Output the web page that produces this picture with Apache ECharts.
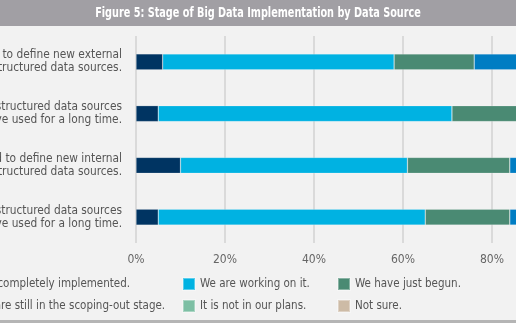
<!DOCTYPE html>
<html><head><meta charset="utf-8">
<script src="https://cdn.jsdelivr.net/npm/echarts@6/dist/echarts.min.js"></script>
<style>html,body{margin:0;padding:0;background:#f2f2f2;overflow:hidden;width:516px;height:323px;}#c{width:650px;height:323px;}</style>
</head><body><div id="c"></div>
<script>
var categories = [
  "We need to define new external\nunstructured data sources.",
  "Internal unstructured data sources\nwe have used for a long time.",
  "We need to define new internal\nstructured data sources.",
  "Internal structured data sources\nwe have used for a long time."
];
var seriesNames = ["It is completely implemented.","We are working on it.","We have just begun.","We are still in the scoping-out stage.","It is not in our plans.","Not sure."];
var completelyImplemented = [6, 5, 10, 5];
var workingOnIt = [52, 66, 51, 60];
var justBegun = [18, 17, 23, 19];
var scopingOut = [14, 7, 10, 10];
var notInPlans = [6, 3, 4, 4];
var notSure = [4, 2, 2, 2];
var tickLabels = ["0%","20%","40%","60%","80%","100%"];
var colors = ["#003462","#00b2e2","#4a8a73","#007dc3","#7dbfa4","#cdbba6"];
var seriesData = [completelyImplemented, workingOnIt, justBegun, scopingOut, notInPlans, notSure];
var FONT = "'Liberation Sans Narrow','DejaVu Sans Condensed','Arial Narrow',sans-serif";
var LFS = 11.5;

var cv = document.createElement('canvas').getContext('2d');
cv.font = LFS + 'px ' + FONT;
var col1TextStart = -cv.measureText('We a').width;
var col1Left = col1TextStart - 17;

var chart = echarts.init(document.getElementById('c'), null, {renderer:'canvas'});
var series = seriesData.map(function(d,i){
  return {name:seriesNames[i], type:'bar', stack:'s', data:d.slice().reverse(), barWidth:16,
    itemStyle:{color:colors[i], borderColor:'rgba(255,255,255,0.35)', borderWidth:0.6}, silent:true};
});
function legendCol(names, left){
  return {orient:'vertical', left:left, top:277, padding:0, itemWidth:12, itemHeight:12, itemGap:8, icon:'rect',
    data:names, selectedMode:false, textStyle:{color:'#555', fontSize:LFS, fontFamily:FONT}};
}
chart.setOption({
  backgroundColor:'#f2f2f2',
  animation:false,
  color:colors,
  graphic:[
    {type:'rect', shape:{x:0,y:0,width:650,height:26}, style:{fill:'#a19fa4'}, z:-1},
    {type:'rect', shape:{x:0,y:320,width:650,height:3}, style:{fill:'#b5b5b5'}, z:-1},
    {type:'text', x:258, y:13, scaleX:0.77, style:{text:'Figure 5: Stage of Big Data Implementation by Data Source',
      fill:'#fff', fontSize:14, fontWeight:'bold', fontFamily:FONT, align:'center', verticalAlign:'middle'}}
  ],
  grid:{left:136, right:69, top:36, bottom:80, containLabel:false, outerBoundsMode:'none'},
  xAxis:{type:'value', min:0, max:100, interval:20,
    axisLine:{show:false}, axisTick:{show:false},
    splitLine:{lineStyle:{color:'#d2d2d2', width:1.5}},
    axisLabel:{color:'#666', fontSize:12, fontFamily:FONT, margin:11,
      formatter:function(v){return tickLabels[v/20];}}},
  yAxis:{type:'category', data:categories.slice().reverse(),
    axisLine:{show:false}, axisTick:{show:false},
    axisLabel:{color:'#555', fontSize:11.8, fontFamily:FONT, margin:14, lineHeight:13, align:'right'}},
  legend:[
    legendCol([seriesNames[0], seriesNames[3]], col1Left),
    legendCol([seriesNames[1], seriesNames[4]], 182),
    legendCol([seriesNames[2], seriesNames[5]], 337)
  ],
  series:series
});
</script></body></html>
